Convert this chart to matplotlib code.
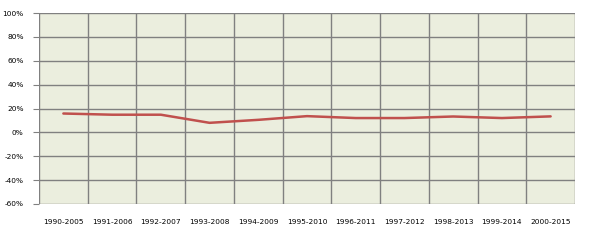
import matplotlib
matplotlib.use("Agg")
import matplotlib.pyplot as plt
import numpy as np

# rolling 15-year periods and the value (in %)
periods = ["1990-2005", "1991-2006", "1992-2007", "1993-2008", "1994-2009",
           "1995-2010", "1996-2011", "1997-2012", "1998-2013", "1999-2014",
           "2000-2015"]
values = [15.8, 14.8, 14.8, 8.0, 10.5, 13.6, 12.0, 12.0, 13.3, 12.0, 13.4]
yticks = [-60, -40, -20, 0, 20, 40, 60, 80, 100]

fig = plt.figure(figsize=(5.9, 2.4), dpi=100)
ax = fig.add_axes([39/590, 1 - 204/240, 536/590, 191/240])
ax.set_facecolor("#EBEEDE")

x = np.arange(len(periods))
ax.plot(x, values, color="#C0504D", lw=1.8, solid_capstyle="round", zorder=3)

ax.set_xlim(-0.5, len(periods) - 0.5)
ax.set_ylim(-60, 100)
ax.set_yticks(yticks)
ax.set_yticklabels(["%d%%" % v for v in yticks], fontsize=5.3)
ax.set_xticks(x)
ax.set_xticklabels(periods, fontsize=5.3)
ax.tick_params(axis="x", length=0, pad=11)
ax.tick_params(axis="y", length=4, color="#808080", pad=7)

# category borders as vertical grid lines
for b in np.arange(-0.5, len(periods), 1.0):
    ax.axvline(b, color="#808080", lw=1.0, zorder=1)
for v in yticks:
    ax.axhline(v, color="#808080", lw=1.0, zorder=1)

for s in ax.spines.values():
    s.set_visible(False)

fig.savefig("out.png", dpi=100)
